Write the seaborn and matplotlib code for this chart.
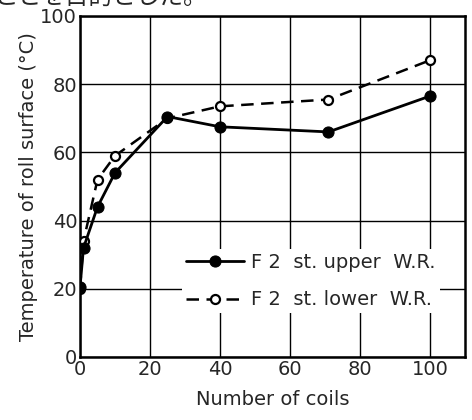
import numpy as np
import pandas as pd
import matplotlib
matplotlib.use("Agg")
import matplotlib.pyplot as plt
import seaborn as sns

# data
coils = [0, 1, 5, 10, 25, 40, 71, 100]
upper_temp = [20.5, 32, 44, 54, 70.5, 67.5, 66, 76.5]
lower_temp = [20, 34, 52, 59, 70, 73.5, 75.5, 87]
upper_label = "F 2  st. upper  W.R."
lower_label = "F 2  st. lower  W.R."
x_ticks = [0, 20, 40, 60, 80, 100]
y_ticks = [0, 20, 40, 60, 80, 100]

sns.set_style("white")
plt.rcParams['font.family'] = ['DejaVu Sans', 'Noto Sans CJK JP']

df_up = pd.DataFrame({"coils": coils, "temp": upper_temp})
df_lo = pd.DataFrame({"coils": coils, "temp": lower_temp})

fig = plt.figure(figsize=(4.72, 4.2), dpi=100)
ax = fig.add_axes([0.1695, 0.15, 0.8155, 0.812])

sns.lineplot(data=df_up, x="coils", y="temp", ax=ax, color="black",
             linestyle="-", linewidth=2.0, marker="o", markersize=8,
             markerfacecolor="black", markeredgecolor="black",
             label=upper_label, zorder=4)
sns.lineplot(data=df_lo, x="coils", y="temp", ax=ax, color="black",
             linestyle=(0, (5, 3)), linewidth=1.8, marker="o", markersize=6.5,
             markerfacecolor="white", markeredgecolor="black", markeredgewidth=1.6,
             label=lower_label, zorder=3)

ax.set_xlim(0, 110)
ax.set_ylim(0, 100)
ax.set_xticks(x_ticks)
ax.set_yticks(y_ticks)
ax.tick_params(labelsize=14, length=0, pad=2)
ax.grid(True, color="black", linewidth=1.0)
ax.set_axisbelow(True)
for s in ax.spines.values():
    s.set_color("black")
    s.set_linewidth(1.8)

ax.set_xlabel("Number of coils", fontsize=14, labelpad=8)
ax.set_ylabel("Temperature of roll surface (°C)", fontsize=14, labelpad=2)

leg = ax.legend(loc="upper left", bbox_to_anchor=(0.24, 0.345), frameon=True,
                fontsize=14, handlelength=3.0, handletextpad=0.35,
                borderpad=0.2, labelspacing=0.95)
leg.get_frame().set_facecolor("white")
leg.get_frame().set_edgecolor("none")
leg.get_frame().set_alpha(1)

# caption fragment clipped at the top of the scan
fig.text(-0.01, 1.003, "ことを目的とした。", fontsize=17, va="center", ha="left",
         family=['Noto Sans CJK JP', 'DejaVu Sans'])

fig.savefig("out.png", dpi=100)
